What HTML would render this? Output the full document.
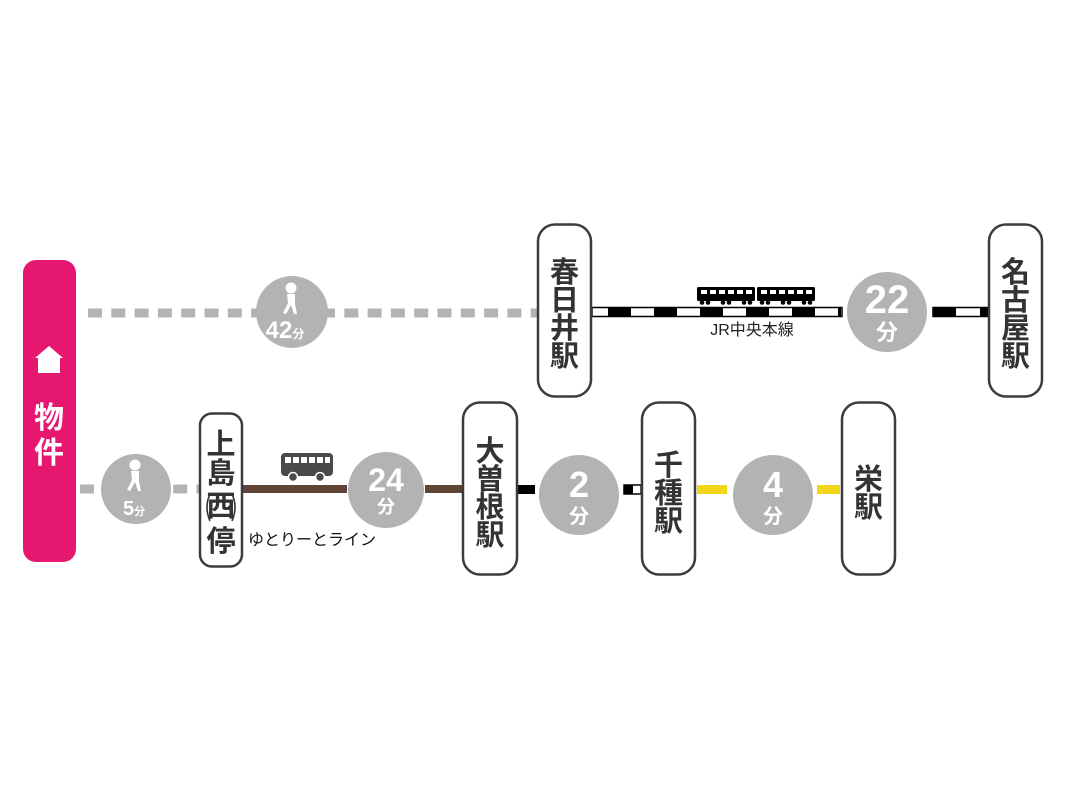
<!DOCTYPE html>
<html><head><meta charset="utf-8"><style>
html,body{margin:0;padding:0;background:#fff;}
svg{display:block;}
text{font-family:"Liberation Sans","Noto Sans CJK JP",sans-serif;}
.st{font-size:29px;font-weight:bold;fill:#333;text-anchor:middle;}
.w{fill:#fff;font-weight:bold;text-anchor:middle;}
</style></head><body>
<svg width="1067" height="800" viewBox="0 0 1067 800" xmlns="http://www.w3.org/2000/svg">
<defs>
<pattern id="jr" x="608" y="0" width="46" height="20" patternUnits="userSpaceOnUse">
<rect x="0" y="0" width="23" height="20" fill="#000"/>
</pattern>
<g id="walker">
<circle cx="0" cy="0" r="5.5" fill="#fff"/>
<path d="M-4,6 L4,6 L4,16 L6,26 L3,26 L0,17 L-5,26 L-8,25 L-3,15 Z" fill="#fff"/>
</g>
</defs>

<line x1="88" y1="313" x2="537" y2="313" stroke="#b3b3b3" stroke-width="9" stroke-dasharray="14 9.3"/>
<line x1="80" y1="489" x2="200" y2="489" stroke="#b3b3b3" stroke-width="9" stroke-dasharray="14 9.3"/>

<rect x="23" y="260" width="53" height="302" rx="13" fill="#e5176f"/>
<path d="M49,346 L63,358 L60,358 L60,373 L38,373 L38,358 L35,358 Z" fill="#fff"/>
<text x="49" y="428" class="w" font-size="30">物</text>
<text x="49" y="463" class="w" font-size="30">件</text>

<circle cx="292" cy="312" r="36" fill="#b3b3b3"/>
<use href="#walker" x="291" y="288"/>
<text x="285" y="338" class="w" font-size="24">42<tspan font-size="12">分</tspan></text>

<circle cx="136" cy="489" r="35" fill="#b3b3b3"/>
<use href="#walker" x="135" y="465"/>
<text x="134" y="515" class="w" font-size="20">5<tspan font-size="11">分</tspan></text>

<rect x="592" y="307.5" width="250" height="9" fill="#fff" stroke="#000" stroke-width="1.5"/>
<rect x="593" y="308" width="248" height="8" fill="url(#jr)"/>
<rect x="933" y="307.5" width="55" height="9" fill="#fff" stroke="#000" stroke-width="1.5"/>
<rect x="933" y="307.5" width="23" height="9" fill="#000"/>
<rect x="980" y="307.5" width="8" height="9" fill="#000"/>
<g fill="#000">
<rect x="697" y="287" width="58" height="14" rx="1.5"/>
<rect x="757" y="287" width="58" height="14" rx="1.5"/>
<circle cx="702" cy="302.5" r="2.3"/><circle cx="708" cy="302.5" r="2.3"/><circle cx="723" cy="302.5" r="2.3"/><circle cx="729" cy="302.5" r="2.3"/><circle cx="744" cy="302.5" r="2.3"/><circle cx="750" cy="302.5" r="2.3"/>
<circle cx="762" cy="302.5" r="2.3"/><circle cx="768" cy="302.5" r="2.3"/><circle cx="783" cy="302.5" r="2.3"/><circle cx="789" cy="302.5" r="2.3"/><circle cx="804" cy="302.5" r="2.3"/><circle cx="810" cy="302.5" r="2.3"/>
</g>
<g fill="#fff">
<rect x="701" y="290" width="6" height="4"/><rect x="710" y="290" width="6" height="4"/><rect x="719" y="290" width="6" height="4"/><rect x="728" y="290" width="6" height="4"/><rect x="737" y="290" width="6" height="4"/><rect x="746" y="290" width="6" height="4"/>
<rect x="761" y="290" width="6" height="4"/><rect x="770" y="290" width="6" height="4"/><rect x="779" y="290" width="6" height="4"/><rect x="788" y="290" width="6" height="4"/><rect x="797" y="290" width="6" height="4"/><rect x="806" y="290" width="6" height="4"/>
</g>
<text x="752" y="335" font-size="16" fill="#222" text-anchor="middle">JR中央本線</text>

<circle cx="887" cy="312" r="40" fill="#b3b3b3"/>
<text x="887" y="313" class="w" font-size="40">22</text>
<text x="887" y="340" class="w" font-size="22">分</text>

<rect x="538" y="224.5" width="53" height="172" rx="17" fill="#fff" stroke="#3c3c3c" stroke-width="2.5"/>
<text x="564.5" y="282" class="st">春</text>
<text x="564.5" y="310" class="st">日</text>
<text x="564.5" y="338" class="st">井</text>
<text x="564.5" y="366" class="st">駅</text>

<rect x="989" y="224.5" width="53" height="172" rx="17" fill="#fff" stroke="#3c3c3c" stroke-width="2.5"/>
<text x="1015.5" y="282" class="st">名</text>
<text x="1015.5" y="310" class="st">古</text>
<text x="1015.5" y="338" class="st">屋</text>
<text x="1015.5" y="366" class="st">駅</text>

<rect x="243" y="485" width="104" height="8" fill="#5e4535"/>
<rect x="425" y="485" width="38" height="8" fill="#5e4535"/>
<rect x="518" y="485" width="17" height="9" fill="#000"/>
<rect x="624" y="485" width="17" height="9" fill="#fff" stroke="#000" stroke-width="1.5"/>
<rect x="624" y="485" width="9" height="9" fill="#000"/>
<rect x="697" y="485" width="30" height="9" fill="#f2d61a"/>
<rect x="817" y="485" width="23" height="9" fill="#f2d61a"/>

<rect x="281" y="453" width="52" height="23" rx="4" fill="#4a4a4a"/>
<g fill="#fff">
<rect x="285" y="457" width="6" height="6"/><rect x="293" y="457" width="6" height="6"/><rect x="301" y="457" width="6" height="6"/><rect x="309" y="457" width="6" height="6"/><rect x="317" y="457" width="6" height="6"/><rect x="325" y="457" width="5" height="6"/>
</g>
<circle cx="293" cy="477" r="4.5" fill="#4a4a4a" stroke="#fff" stroke-width="1.5"/>
<circle cx="320" cy="477" r="4.5" fill="#4a4a4a" stroke="#fff" stroke-width="1.5"/>
<text x="248" y="545" font-size="16" fill="#111">ゆとりーとライン</text>

<circle cx="386" cy="490" r="38" fill="#b3b3b3"/>
<text x="386" y="491" class="w" font-size="32">24</text>
<text x="386" y="513" class="w" font-size="18">分</text>

<circle cx="579" cy="495" r="40" fill="#b3b3b3"/>
<text x="579" y="497" class="w" font-size="36">2</text>
<text x="579" y="523" class="w" font-size="20">分</text>

<circle cx="773" cy="495" r="40" fill="#b3b3b3"/>
<text x="773" y="497" class="w" font-size="36">4</text>
<text x="773" y="523" class="w" font-size="20">分</text>

<rect x="200" y="413.5" width="42" height="153" rx="12" fill="#fff" stroke="#3c3c3c" stroke-width="2.5"/>
<text x="221" y="454" class="st" font-size="26">上</text>
<text x="221" y="483" class="st" font-size="26">島</text>
<text x="221" y="516" class="st" font-size="19">西</text>
<path d="M210,494 Q204,507 210,521" fill="none" stroke="#333" stroke-width="1.6"/>
<path d="M232,494 Q238,507 232,521" fill="none" stroke="#333" stroke-width="1.6"/>
<text x="221" y="551" class="st" font-size="26">停</text>

<rect x="463" y="402.5" width="54" height="172" rx="17" fill="#fff" stroke="#3c3c3c" stroke-width="2.5"/>
<text x="490" y="461" class="st">大</text>
<text x="490" y="489" class="st">曽</text>
<text x="490" y="517" class="st">根</text>
<text x="490" y="545" class="st">駅</text>

<rect x="642" y="402.5" width="53" height="172" rx="17" fill="#fff" stroke="#3c3c3c" stroke-width="2.5"/>
<text x="668.5" y="475" class="st">千</text>
<text x="668.5" y="503" class="st">種</text>
<text x="668.5" y="531" class="st">駅</text>

<rect x="842" y="402.5" width="53" height="172" rx="17" fill="#fff" stroke="#3c3c3c" stroke-width="2.5"/>
<text x="868.5" y="489" class="st">栄</text>
<text x="868.5" y="517" class="st">駅</text>
</svg>
</body></html>
